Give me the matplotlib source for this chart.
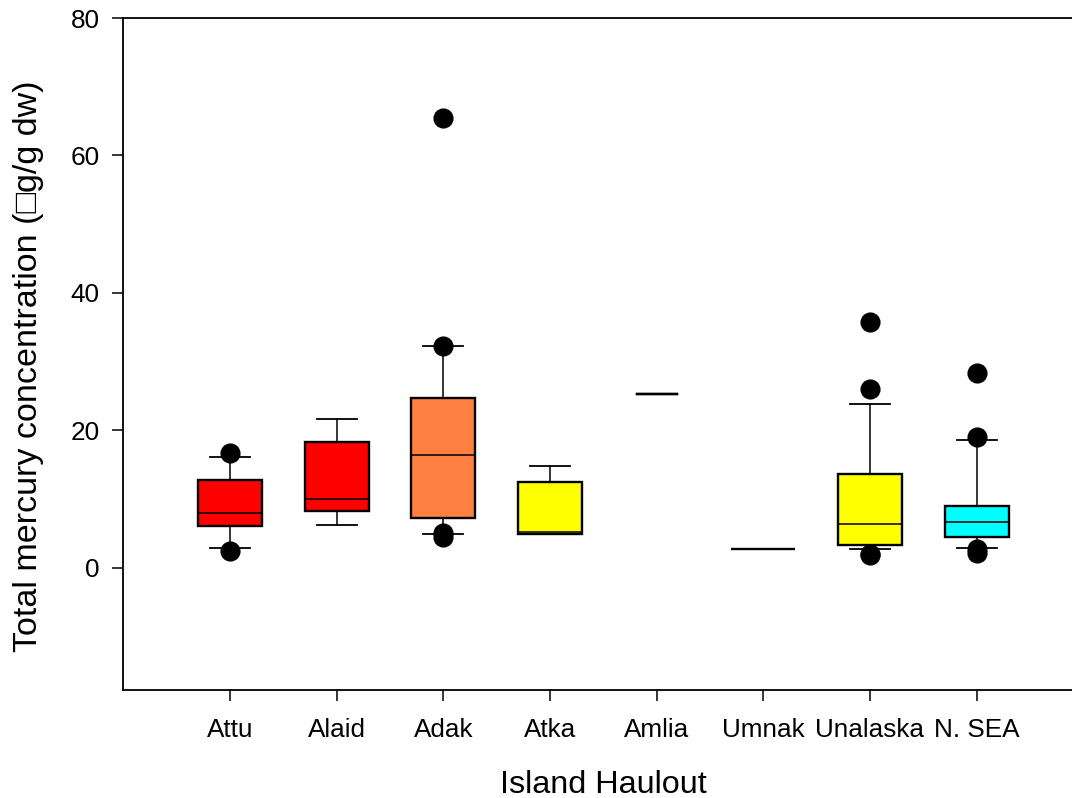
import matplotlib
matplotlib.use("Agg")
import matplotlib.pyplot as plt

plt.rcParams['font.family'] = ['Liberation Sans', 'DejaVu Sans']

categories = ["Attu", "Alaid", "Adak", "Atka", "Amlia", "Umnak", "Unalaska", "N. SEA"]
whis_lo = [2.95, 6.25, 5.0, 4.95, 25.3, 2.7, 2.7, 2.95]
q1      = [6.1, 8.3, 7.3, 4.95, 25.3, 2.7, 3.4, 4.5]
median  = [8.0, 10.1, 16.4, 5.3, 25.3, 2.7, 6.35, 6.65]
q3      = [12.8, 18.3, 24.7, 12.55, 25.3, 2.7, 13.6, 9.0]
whis_hi = [16.2, 21.7, 32.3, 14.8, 25.3, 2.7, 23.85, 18.6]
outliers = [
    [2.47, 16.77],
    [],
    [4.55, 5.05, 32.3, 65.4],
    [],
    [],
    [],
    [1.9, 2.1, 26.1, 35.8],
    [2.2, 2.8, 19.05, 28.4],
]
box_colors = ["#FF0000", "#FF0000", "#FF8040", "#FFFF00", "#FFFFFF", "#000000", "#FFFF00", "#00FFFF"]
has_box = [True, True, True, True, False, True, True, True]

yticks = [0, 20, 40, 60, 80]

W, H = 1072, 798
fig = plt.figure(figsize=(W / 100, H / 100), dpi=100)
left_px, right_px, top_px, bottom_px = 123.3, 1083.3, 18, 690
ax = fig.add_axes([left_px / W, 1 - bottom_px / H, (right_px - left_px) / W, (bottom_px - top_px) / H])

for i, name in enumerate(categories):
    st = dict(label=name, whislo=whis_lo[i], q1=q1[i], med=median[i], q3=q3[i],
              whishi=whis_hi[i], fliers=outliers[i])
    ax.bxp([st], positions=[i + 1], widths=0.6, patch_artist=True,
           showbox=has_box[i], showfliers=True, manage_ticks=False,
           boxprops=dict(facecolor=box_colors[i], edgecolor="black", linewidth=1.7),
           whiskerprops=dict(color="black", linewidth=1.1),
           capprops=dict(color="black", linewidth=1.3 if has_box[i] else 1.7),
           capwidths=0.375,
           medianprops=dict(color="black", linewidth=1.1 if has_box[i] else 0),
           flierprops=dict(marker="o", markerfacecolor="black", markeredgecolor="black",
                           markersize=13.5, linestyle="none"))

ax.set_xlim(0, 9)
ax.set_ylim(-17.75, 80)
ax.set_xticks(range(1, len(categories) + 1))
ax.set_xticklabels(categories)
ax.set_yticks(yticks)
ax.set_yticklabels([str(v) for v in yticks])
ax.tick_params(axis='both', direction='out', length=8, width=1.1, labelsize=18.8, colors='black')
ax.tick_params(axis='x', pad=12)
ax.tick_params(axis='y', pad=9)
for sp in ax.spines.values():
    sp.set_linewidth(1.3)

fig.text(29 / W, 1 - 366 / H, "Total mercury concentration (\u25a1g/g dw)", rotation=90,
         ha='center', va='center', fontsize=24.5)
fig.text(603.5 / W, 1 - 793 / H, "Island Haulout", ha='center', va='baseline', fontsize=23.3)

fig.savefig("out.png", dpi=100)
